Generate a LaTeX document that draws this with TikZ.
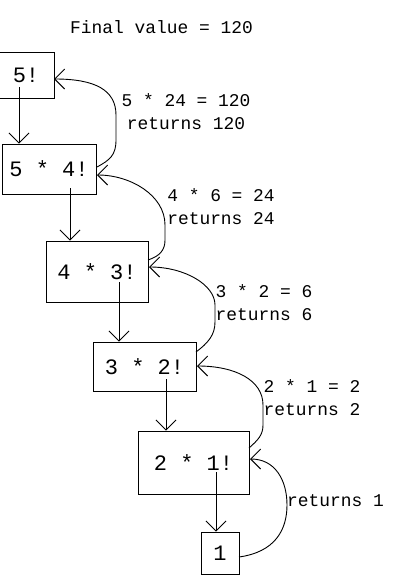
\documentclass[tikz,border=0pt]{standalone}
\usepackage{fontspec}
\setmainfont{Liberation Mono}
\usetikzlibrary{arrows.meta}
\begin{document}
\begin{tikzpicture}[x=1pt,y=-1pt,
  every path/.style={line width=0.9pt},
  box/.style={draw, line width=0.9pt, inner sep=0pt, font=\fontsize{22}{26}\selectfont},
  lbl/.style={align=center, inner sep=0pt, font=\fontsize{17.9}{23}\selectfont},
  arr/.style={-{Straight Barb[length=10pt,width=20pt]}}]
\useasboundingbox (0,0) rectangle (401,581);
\node[lbl] (title) at (161.5,27) {Final value = 120};
\node[box, minimum width=56pt, minimum height=46pt] (n5) at (26,75) {5!};
\node[box, minimum width=94pt, minimum height=50pt] (n54) at (49,169) {5 * 4!};
\node[box, minimum width=102pt, minimum height=61pt] (n43) at (97,271.5) {4 * 3!};
\node[box, minimum width=103pt, minimum height=49pt] (n32) at (144.5,366.5) {3 * 2!};
\node[box, minimum width=111pt, minimum height=63pt] (n21) at (193.5,462.5) {2 * 1!};
\node[box, minimum width=38pt, minimum height=42pt] (n1) at (220,553) {1};
% calls
\coordinate (s5) at (19,87);
\coordinate (s54) at (70,188);
\coordinate (s43) at (119,282);
\coordinate (s32) at (166,379);
\coordinate (s21) at (216,472);
\draw[arr] (s5) -- (s5 |- n54.north);
\draw[arr] (s54) -- (s54 |- n43.north);
\draw[arr] (s43) -- (s43 |- n32.north);
\draw[arr] (s32) -- (s32 |- n21.north);
\draw[arr] (s21) -- (s21 |- n1.north);
% returns
\coordinate (r54) at (97,167);
\coordinate (t5) at (54,79);
\coordinate (r43) at (148,260);
\coordinate (t54) at (97,175);
\coordinate (r32) at (196,352);
\coordinate (t43) at (149,267);
\coordinate (r21) at (249,448);
\coordinate (t32) at (197,366);
\coordinate (r1) at (239,557);
\coordinate (t21) at (250,459);
\draw[arr] (r54) .. controls (110,160) and (116,155) .. (116,140) -- (116,115) .. controls (116,90) and (95,79) .. (t5);
\draw[arr] (r43) .. controls (160,256) and (165,250) .. (165,240) -- (165,225) .. controls (165,195) and (130,175) .. (t54);
\draw[arr] (r32) .. controls (208,343) and (215,335) .. (215,322) -- (215,305) .. controls (215,285) and (185,267) .. (t43);
\draw[arr] (r21) .. controls (258,440) and (263,435) .. (263,425) -- (263,405) .. controls (263,380) and (235,366) .. (t32);
\draw[arr] (r1) .. controls (275,552) and (287,530) .. (287,505) .. controls (287,480) and (275,459) .. (t21);
% labels
\node[lbl] (l1) at (186,112) {5 * 24 = 120\\returns 120};
\node[lbl] (l2) at (221,207) {4 * 6 = 24\\returns 24};
\node[lbl] (l3) at (264,303) {3 * 2 = 6\\returns 6};
\node[lbl] (l4) at (312,398) {2 * 1 = 2\\returns 2};
\node[lbl] (l5) at (335.5,501) {returns 1};
\end{tikzpicture}
\end{document}
